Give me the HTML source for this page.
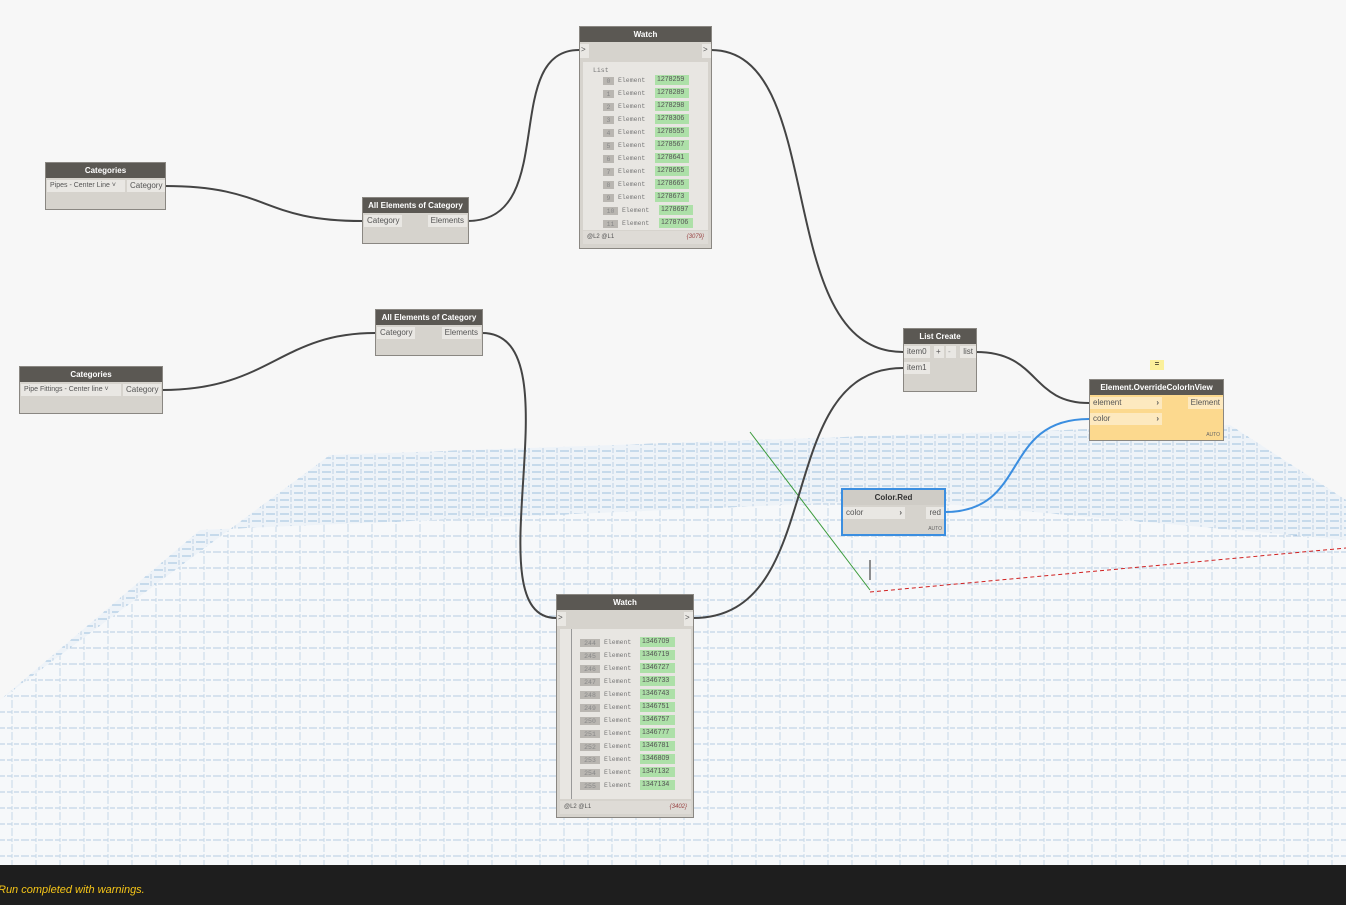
<!DOCTYPE html>
<html><head><meta charset="utf-8"><style>
*{margin:0;padding:0;box-sizing:border-box}
html,body{width:1346px;height:905px;overflow:hidden}
body{background:#f7f7f7;font-family:"Liberation Sans",sans-serif;position:relative}
.n{position:absolute;background:#d6d3cd;border:1px solid #8a8782}
.h{background:#5b5853;color:#fff;font-size:8px;font-weight:bold;text-align:center;height:15px;line-height:15px;white-space:nowrap}
.p{position:absolute;background:#e9e7e3;color:#555;font-size:8px;height:12px;line-height:12px;padding:0 3px;white-space:nowrap;overflow:hidden}
.row{position:absolute;font-family:"Liberation Mono",monospace;font-size:6.5px;color:#777;height:9px;line-height:9px}
.ix{position:absolute;background:#b9b6b1;color:#888;text-align:center;height:8px}
.vl{position:absolute;background:#ade0a8;color:#555;height:10px;line-height:10px;padding-left:2px;font-family:"Liberation Sans",sans-serif;font-size:7px}
</style></head><body>
<svg width="1346" height="905" style="position:absolute;left:0;top:0">
<defs>
<pattern id="g" width="14" height="7" patternUnits="userSpaceOnUse">
<rect width="14" height="7" fill="#eef3f8"/>
<line x1="0" y1="3" x2="9" y2="3" stroke="#9fc0de" stroke-width="1"/>
<line x1="11" y1="0" x2="11" y2="5" stroke="#bdd2e5" stroke-width="1"/>
</pattern>
<pattern id="g2" width="24" height="16" patternUnits="userSpaceOnUse">
<rect width="24" height="16" fill="#f6f8fa"/>
<line x1="0" y1="8" x2="24" y2="8" stroke="#b5cde3" stroke-width="1" stroke-dasharray="5 2"/>
<line x1="12" y1="0" x2="12" y2="16" stroke="#c6d8e8" stroke-width="1" stroke-dasharray="4 2"/>
</pattern>
</defs>
<polygon points="330,455 900,435 1230,425 1346,500 1346,865 0,865 0,700" fill="url(#g2)"/>
<polygon points="330,455 900,435 1230,425 1346,500 1346,540 900,500 200,530 0,700" fill="url(#g)"/>
<line x1="750" y1="432" x2="870" y2="590" stroke="#3a9a3a" stroke-width="1"/>
<line x1="870" y1="592" x2="1346" y2="548" stroke="#d02020" stroke-width="1" stroke-dasharray="4 3"/>
<line x1="870" y1="560" x2="870" y2="580" stroke="#222" stroke-width="1"/>
<g fill="none" stroke="#444" stroke-width="2">
<path d="M165,186 C270,186 260,221 362,221"/>
<path d="M468,221 C560,221 500,50 579,50"/>
<path d="M711,50 C830,50 770,352 903,352"/>
<path d="M162,390 C270,390 280,333 375,333"/>
<path d="M482,333 C580,333 470,618 556,618"/>
<path d="M693,618 C830,618 770,368 903,368"/>
<path d="M976,352 C1040,352 1030,403 1089,403"/>
</g>
<path d="M945,512 C1030,512 1000,419 1089,419" fill="none" stroke="#3b8ee0" stroke-width="2"/>
</svg>

<div class="n" style="left:45px;top:162px;width:121px;height:48px"><div class="h">Categories</div>
<div class="p" style="left:1px;top:17px;width:78px;font-size:7px">Pipes - Center Line ˅</div><div class="p" style="left:81px;top:17px">Category</div></div>

<div class="n" style="left:362px;top:197px;width:107px;height:47px"><div class="h">All Elements of Category</div>
<div class="p" style="left:1px;top:17px">Category</div><div class="p" style="right:1px;top:17px">Elements</div></div>

<div class="n" style="left:19px;top:366px;width:144px;height:48px"><div class="h">Categories</div>
<div class="p" style="left:1px;top:17px;width:100px;font-size:7px">Pipe Fittings - Center line ˅</div><div class="p" style="left:103px;top:17px">Category</div></div>

<div class="n" style="left:375px;top:309px;width:108px;height:47px"><div class="h">All Elements of Category</div>
<div class="p" style="left:1px;top:17px">Category</div><div class="p" style="right:1px;top:17px">Elements</div></div>

<div class="n" style="left:579px;top:26px;width:133px;height:223px"><div class="h">Watch</div>
<div class="p" style="left:0;top:17px;width:9px;height:14px;padding:0 1px">&gt;</div><div class="p" style="right:0;top:17px;width:9px;height:14px;padding:0 1px">&gt;</div>
<div style="position:absolute;left:3px;top:35px;width:125px;height:168px;background:#e8e6e2"></div>
<div class="row" style="left:13px;top:39px">List</div>
<div style="position:absolute;left:3px;top:204px;width:125px;height:13px;background:#dedbd6;font-size:6px;color:#555;line-height:13px;padding:0 4px">@L2 @L1<span style="float:right;color:#944;font-style:italic">{3079}</span></div>
</div>
<div class="n" style="left:556px;top:594px;width:138px;height:224px"><div class="h">Watch</div>
<div class="p" style="left:0;top:17px;width:9px;height:14px;padding:0 1px">&gt;</div><div class="p" style="right:0;top:17px;width:9px;height:14px;padding:0 1px">&gt;</div>
<div style="position:absolute;left:3px;top:34px;width:131px;height:170px;background:#e8e6e2"></div>
<div style="position:absolute;left:14px;top:34px;width:1px;height:170px;background:#999"></div>
<div style="position:absolute;left:3px;top:206px;width:131px;height:13px;background:#dedbd6;font-size:6px;color:#555;line-height:13px;padding:0 4px">@L2 @L1<span style="float:right;color:#944;font-style:italic">{3402}</span></div>
</div>

<div style="position:absolute;left:0;top:0">
<div class="ix row" style="left:603px;top:77px;width:11px">0</div><div class="row" style="left:618px;top:76px">Element</div><div class="vl" style="left:655px;top:75px;width:34px">1278259</div>
<div class="ix row" style="left:603px;top:90px;width:11px">1</div><div class="row" style="left:618px;top:89px">Element</div><div class="vl" style="left:655px;top:88px;width:34px">1278289</div>
<div class="ix row" style="left:603px;top:103px;width:11px">2</div><div class="row" style="left:618px;top:102px">Element</div><div class="vl" style="left:655px;top:101px;width:34px">1278298</div>
<div class="ix row" style="left:603px;top:116px;width:11px">3</div><div class="row" style="left:618px;top:115px">Element</div><div class="vl" style="left:655px;top:114px;width:34px">1278306</div>
<div class="ix row" style="left:603px;top:129px;width:11px">4</div><div class="row" style="left:618px;top:128px">Element</div><div class="vl" style="left:655px;top:127px;width:34px">1278555</div>
<div class="ix row" style="left:603px;top:142px;width:11px">5</div><div class="row" style="left:618px;top:141px">Element</div><div class="vl" style="left:655px;top:140px;width:34px">1278567</div>
<div class="ix row" style="left:603px;top:155px;width:11px">6</div><div class="row" style="left:618px;top:154px">Element</div><div class="vl" style="left:655px;top:153px;width:34px">1278641</div>
<div class="ix row" style="left:603px;top:168px;width:11px">7</div><div class="row" style="left:618px;top:167px">Element</div><div class="vl" style="left:655px;top:166px;width:34px">1278655</div>
<div class="ix row" style="left:603px;top:181px;width:11px">8</div><div class="row" style="left:618px;top:180px">Element</div><div class="vl" style="left:655px;top:179px;width:34px">1278665</div>
<div class="ix row" style="left:603px;top:194px;width:11px">9</div><div class="row" style="left:618px;top:193px">Element</div><div class="vl" style="left:655px;top:192px;width:34px">1278673</div>
<div class="ix row" style="left:603px;top:207px;width:15px">10</div><div class="row" style="left:622px;top:206px">Element</div><div class="vl" style="left:659px;top:205px;width:34px">1278697</div>
<div class="ix row" style="left:603px;top:220px;width:15px">11</div><div class="row" style="left:622px;top:219px">Element</div><div class="vl" style="left:659px;top:218px;width:34px">1278706</div>
<div class="ix row" style="left:580px;top:639px;width:20px">244</div><div class="row" style="left:604px;top:638px">Element</div><div class="vl" style="left:640px;top:637px;width:35px">1346709</div>
<div class="ix row" style="left:580px;top:652px;width:20px">245</div><div class="row" style="left:604px;top:651px">Element</div><div class="vl" style="left:640px;top:650px;width:35px">1346719</div>
<div class="ix row" style="left:580px;top:665px;width:20px">246</div><div class="row" style="left:604px;top:664px">Element</div><div class="vl" style="left:640px;top:663px;width:35px">1346727</div>
<div class="ix row" style="left:580px;top:678px;width:20px">247</div><div class="row" style="left:604px;top:677px">Element</div><div class="vl" style="left:640px;top:676px;width:35px">1346733</div>
<div class="ix row" style="left:580px;top:691px;width:20px">248</div><div class="row" style="left:604px;top:690px">Element</div><div class="vl" style="left:640px;top:689px;width:35px">1346743</div>
<div class="ix row" style="left:580px;top:704px;width:20px">249</div><div class="row" style="left:604px;top:703px">Element</div><div class="vl" style="left:640px;top:702px;width:35px">1346751</div>
<div class="ix row" style="left:580px;top:717px;width:20px">250</div><div class="row" style="left:604px;top:716px">Element</div><div class="vl" style="left:640px;top:715px;width:35px">1346757</div>
<div class="ix row" style="left:580px;top:730px;width:20px">251</div><div class="row" style="left:604px;top:729px">Element</div><div class="vl" style="left:640px;top:728px;width:35px">1346777</div>
<div class="ix row" style="left:580px;top:743px;width:20px">252</div><div class="row" style="left:604px;top:742px">Element</div><div class="vl" style="left:640px;top:741px;width:35px">1346781</div>
<div class="ix row" style="left:580px;top:756px;width:20px">253</div><div class="row" style="left:604px;top:755px">Element</div><div class="vl" style="left:640px;top:754px;width:35px">1346809</div>
<div class="ix row" style="left:580px;top:769px;width:20px">254</div><div class="row" style="left:604px;top:768px">Element</div><div class="vl" style="left:640px;top:767px;width:35px">1347132</div>
<div class="ix row" style="left:580px;top:782px;width:20px">255</div><div class="row" style="left:604px;top:781px">Element</div><div class="vl" style="left:640px;top:780px;width:35px">1347134</div>
</div>

<div class="n" style="left:903px;top:328px;width:74px;height:64px"><div class="h">List Create</div>
<div class="p" style="left:0;top:17px">item0</div><div class="p" style="left:30px;top:17px;width:10px;padding:0 2px">+</div><div class="p" style="left:42px;top:17px;width:10px;padding:0 2px;color:#999">-</div><div class="p" style="right:0;top:17px">list</div>
<div class="p" style="left:0;top:33px">item1</div></div>

<div style="position:absolute;left:1150px;top:360px;width:14px;height:10px;background:#fbf09a;font-size:8px;text-align:center;line-height:8px">=</div>
<div class="n" style="left:1089px;top:379px;width:135px;height:62px;background:#fcd98e"><div class="h">Element.OverrideColorInView</div>
<div class="p" style="left:0;top:17px;width:72px;background:#fde9bf">element<span style="float:right;font-weight:bold">›</span></div>
<div class="p" style="left:0;top:33px;width:72px;background:#fde9bf">color<span style="float:right;font-weight:bold">›</span></div>
<div class="p" style="right:0;top:17px;background:#fde9bf">Element</div>
<div style="position:absolute;right:3px;bottom:2px;font-size:5px;color:#666">AUTO</div></div>

<div class="n" style="left:841px;top:488px;width:105px;height:48px;border:2px solid #3b8ee0"><div class="h" style="background:#cfccc6;color:#333">Color.Red</div>
<div class="p" style="left:0;top:17px;width:62px">color<span style="float:right;font-weight:bold">›</span></div>
<div class="p" style="right:0;top:17px">red</div>
<div style="position:absolute;right:2px;bottom:2px;font-size:5px;color:#666">AUTO</div></div>

<div style="position:absolute;left:0;top:865px;width:1346px;height:40px;background:#1e1e1e;overflow:hidden"><div style="position:absolute;left:-2px;top:19px;color:#f5c518;font-style:italic;font-size:11px;white-space:nowrap">Run completed with warnings.</div></div>
</body></html>
